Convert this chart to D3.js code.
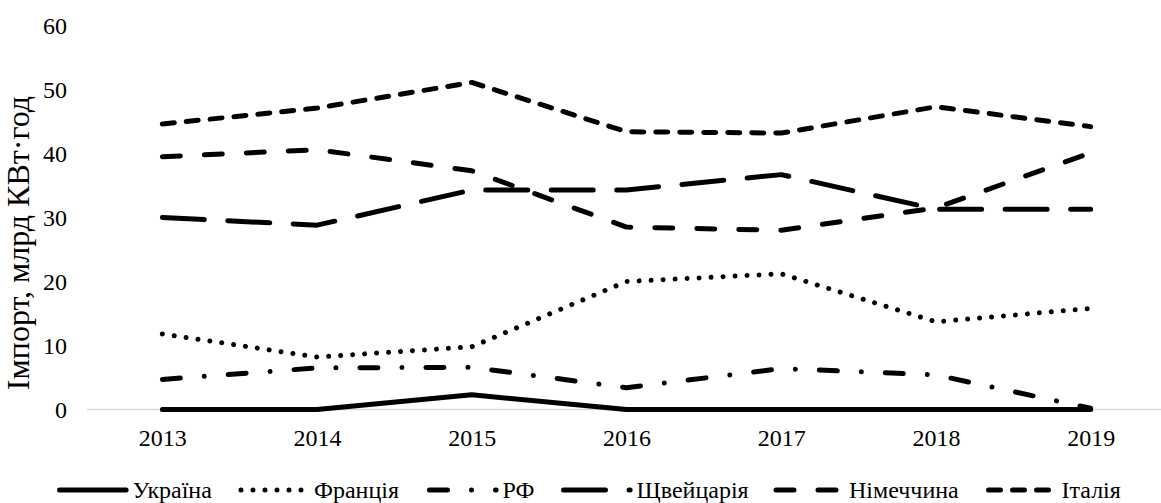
<!DOCTYPE html>
<html>
<head>
<meta charset="utf-8">
<script src="https://cdn.jsdelivr.net/npm/d3@7"></script>
<style>
  html, body { margin: 0; padding: 0; background: #fff; }
  svg { display: block; }
  text { font-family: "Liberation Serif", "Times New Roman", serif; fill: #000; }
</style>
</head>
<body>
<svg id="chart" width="1161" height="503"></svg>
<script>
// ---- data ----
const years = ["2013", "2014", "2015", "2016", "2017", "2018", "2019"];
const seriesNames = ["Україна", "Франція", "РФ", "Щвейцарія", "Німеччина", "Італія"];
const ukraine   = [0, 0, 2.3, 0, 0, 0, 0];
const france    = [11.8, 8.2, 9.8, 20.0, 21.2, 13.7, 15.8];
const russia    = [4.7, 6.5, 6.6, 3.4, 6.4, 5.4, 0.2];
const swiss     = [30.0, 28.8, 34.3, 34.3, 36.7, 31.3, 31.3];
const germany   = [39.5, 40.6, 37.3, 28.5, 28.0, 31.5, 40.1];
const italy     = [44.6, 47.1, 51.1, 43.4, 43.2, 47.3, 44.2];
const yTicks    = [0, 10, 20, 30, 40, 50, 60];
const yTitle    = "Імпорт, млрд КВт·год";

// ---- styles ----
const seriesValues = [ukraine, france, russia, swiss, germany, italy];
const dashes = [null, "0.001 12", "18 24 0.001 24", "42 23.5", "18 24", "12 12"];
const lineW = 5;
const serif = '"Liberation Serif", "Times New Roman", serif';
const tickSize = 24;
const titleSize = 32;
const legendSize = 24;

const svg = d3.select("#chart");
const x = d3.scalePoint().domain(years).range([85, 1168]).padding(0.5);
const y = d3.scaleLinear().domain([0, 60]).range([409.5, 25.5]);

// baseline axis (grey)
svg.append("line")
  .attr("x1", 87).attr("x2", 1168)
  .attr("y1", y(0)).attr("y2", y(0))
  .attr("stroke", "#d9d9d9").attr("stroke-width", 1.5);

// y tick labels
const yAxis = d3.axisLeft(y).tickValues(yTicks).tickSize(0).tickPadding(0).tickFormat(d3.format("d"));
const gy = svg.append("g").attr("transform", "translate(67,0)").call(yAxis);
gy.attr("font-family", null).attr("font-size", null);
gy.select(".domain").remove();
gy.selectAll("text").style("font-family", serif).style("font-size", tickSize + "px");

// x tick labels
const xAxis = d3.axisBottom(x).tickSize(0).tickPadding(0);
const gx = svg.append("g").attr("transform", `translate(0,${y(0) + 19})`).call(xAxis);
gx.attr("font-family", null).attr("font-size", null);
gx.select(".domain").remove();
gx.selectAll("text").style("font-family", serif).style("font-size", tickSize + "px");

// y title
svg.append("text")
  .attr("transform", `translate(29,${243}) rotate(-90)`)
  .attr("text-anchor", "middle")
  .style("font-family", serif)
  .style("font-size", titleSize + "px")
  .text(yTitle);

// lines
const line = d3.line().x((d, i) => x(years[i])).y(d => y(d));
seriesValues.forEach((vals, k) => {
  svg.append("path")
    .datum(vals)
    .attr("d", line)
    .attr("fill", "none")
    .attr("stroke", "#000")
    .attr("stroke-width", lineW)
    .attr("stroke-linecap", "round")
    .attr("stroke-linejoin", "round")
    .attr("stroke-dasharray", dashes[k]);
});

// legend
const legendStarts = [59.5, 241, 429.5, 563.5, 776, 988.5];
const legendY = 490;
const sampleLen = 66.6;
seriesNames.forEach((name, k) => {
  const x0 = legendStarts[k];
  svg.append("line")
    .attr("x1", x0).attr("x2", x0 + sampleLen)
    .attr("y1", legendY).attr("y2", legendY)
    .attr("stroke", "#000")
    .attr("stroke-width", lineW)
    .attr("stroke-linecap", "round")
    .attr("stroke-dasharray", dashes[k]);
  svg.append("text")
    .attr("x", x0 + 73)
    .attr("y", legendY)
    .attr("dy", "0.35em")
    .style("font-family", serif)
    .style("font-size", legendSize + "px")
    .text(name);
});
</script>
</body>
</html>
